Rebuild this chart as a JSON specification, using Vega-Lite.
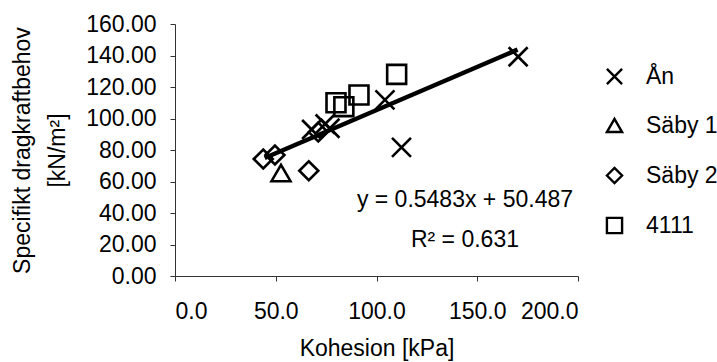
{
  "$schema": "https://vega.github.io/schema/vega-lite/v6.json",
  "width": 403,
  "height": 252,
  "autosize": "none",
  "padding": {"left": 175, "top": 24, "right": 139, "bottom": 86},
  "background": "white",
  "config": {
    "font": "Liberation Sans",
    "view": {"stroke": null},
    "axis": {
      "grid": false,
      "domainColor": "#333333",
      "tickColor": "#333333",
      "labelColor": "black",
      "titleColor": "black",
      "labelFontSize": 23,
      "titleFontSize": 23,
      "titleFontWeight": "normal",
      "tickSize": 5,
      "labelOverlap": false
    }
  },
  "datasets": {
    "points": [
      {"k": 170.3, "d": 139.2, "g": "Ån"},
      {"k": 104.2, "d": 111.8, "g": "Ån"},
      {"k": 112.4, "d": 81.7, "g": "Ån"},
      {"k": 76.9, "d": 93.8, "g": "Ån"},
      {"k": 74.5, "d": 96.5, "g": "Ån"},
      {"k": 67.8, "d": 93.0, "g": "Ån"},
      {"k": 52.6, "d": 65.4, "g": "Säby 1"},
      {"k": 43.8, "d": 74.3, "g": "Säby 2"},
      {"k": 49.6, "d": 76.8, "g": "Säby 2"},
      {"k": 66.4, "d": 66.8, "g": "Säby 2"},
      {"k": 71.1, "d": 91.4, "g": "Säby 2"},
      {"k": 79.9, "d": 110.0, "g": "4111"},
      {"k": 83.8, "d": 107.5, "g": "4111"},
      {"k": 91.3, "d": 114.9, "g": "4111"},
      {"k": 110.0, "d": 128.0, "g": "4111"}
    ],
    "trend": [
      {"k": 44.5, "d": 74.9},
      {"k": 170.0, "d": 143.7}
    ],
    "labels": [
      {"k": 143.9, "d": 48.3, "t": "y = 0.5483x + 50.487"},
      {"k": 143.9, "d": 23.0, "t": "R² = 0.631"}
    ]
  },
  "layer": [
    {
      "data": {"name": "points"},
      "mark": {"type": "point", "filled": false, "stroke": "black", "strokeWidth": 2.6, "opacity": 1, "size": 360},
      "encoding": {
        "x": {
          "field": "k", "type": "quantitative",
          "scale": {"domain": [0, 200], "nice": false, "zero": true},
          "axis": {"values": [0, 50, 100, 150, 200], "tickCount": 10, "format": ".1f", "title": "Kohesion [kPa]", "labelPadding": 19, "titlePadding": 14, "labelOverlap": false}
        },
        "y": {
          "field": "d", "type": "quantitative",
          "scale": {"domain": [0, 160], "nice": false},
          "axis": {"values": [0, 20, 40, 60, 80, 100, 120, 140, 160], "tickCount": 12, "format": ".2f", "title": ["Specifikt dragkraftbehov", "[kN/m²]"], "labelPadding": 14, "titlePadding": 16, "titleLineHeight": 35, "labelOverlap": false, "labelBound": false}
        },
        "shape": {
          "field": "g", "type": "nominal",
          "scale": {
            "domain": ["Ån", "Säby 1", "Säby 2", "4111"],
            "range": ["M-1,-1L1,1M-1,1L1,-1", "triangle-up", "diamond", "square"]
          },
          "legend": {
            "title": null,
            "orient": "none",
            "legendX": 428,
            "legendY": 41,
            "labelFontSize": 23,
            "labelColor": "black",
            "symbolSize": 230,
            "symbolStrokeWidth": 2.4,
            "symbolStrokeColor": "black",
            "symbolFillColor": "transparent",
            "rowPadding": 25,
            "labelOffset": 20
          }
        }
      }
    },
    {
      "data": {"name": "trend"},
      "mark": {"type": "line", "color": "black", "strokeWidth": 4.5},
      "encoding": {
        "x": {"field": "k", "type": "quantitative"},
        "y": {"field": "d", "type": "quantitative"}
      }
    },
    {
      "data": {"name": "labels"},
      "mark": {"type": "text", "fontSize": 23, "color": "black", "align": "center", "baseline": "middle"},
      "encoding": {
        "x": {"field": "k", "type": "quantitative"},
        "y": {"field": "d", "type": "quantitative"},
        "text": {"field": "t"}
      }
    }
  ]
}
